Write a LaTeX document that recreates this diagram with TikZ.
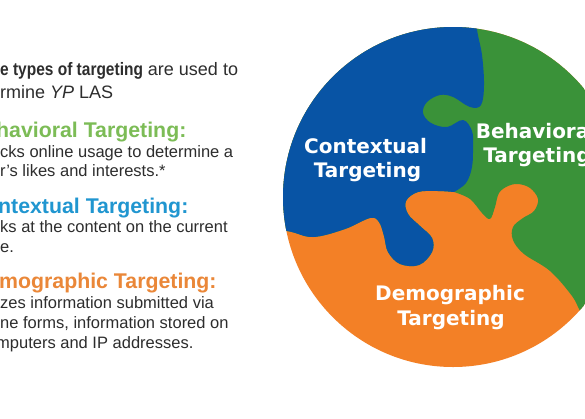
\documentclass[tikz,border=0pt]{standalone}
\usepackage{fontspec}
\setmainfont{Liberation Sans}
\newfontfamily\labelfont{DejaVu Sans}
\definecolor{pzblue}{RGB}{8,84,165}
\definecolor{pzgreen}{RGB}{58,146,57}
\definecolor{pzorange}{RGB}{243,128,38}
\definecolor{hdgreen}{RGB}{124,188,86}
\definecolor{hdblue}{RGB}{32,150,208}
\definecolor{hdorange}{RGB}{234,135,56}
\definecolor{bodygray}{RGB}{45,45,45}
\tikzset{
  txt/.style={anchor=base west, inner sep=0pt, text=bodygray},
  intro/.style={txt, font=\fontsize{18}{22}\selectfont},
  body/.style={txt, font=\fontsize{16.5}{20}\selectfont},
  head/.style={txt, font=\fontsize{21.3}{24}\selectfont\bfseries},
  lbl/.style={anchor=base, inner sep=0pt, text=white, font=\labelfont\bfseries\fontsize{20}{24}\selectfont}
}
\begin{document}
\begin{tikzpicture}[x=1pt,y=-1pt]
\useasboundingbox (0,0) rectangle (585,418);
\clip (0,0) rectangle (585,418);
\fill[white] (0,0) rectangle (585,418);
% puzzle disc
\begin{scope}
\clip (453,197) circle[radius=170pt];
\fill[pzorange] (453,197) circle[radius=172pt];
\fill[pzgreen] (250,0) -- (250,228)
  -- plot[smooth,tension=0.6] coordinates {(250,228) (287,231) (313,237) (345,229) (370,218) (379,222) (384,236) (388,252) (400,264) (419,265) (432,252) (432,238) (420,226) (408,214) (406,201) (418,192) (438,191) (454,192)}
  -- plot[smooth,tension=0.6] coordinates {(454,192) (470,199) (482,213) (490,219) (495,207) (499,193) (508,186) (518,184) (530,188) (538,199) (534,211) (523,218) (513,227) (513,240) (524,254) (550,271) (572,296) (582,314) (600,335)}
  -- (700,400) -- (700,0) -- cycle;
\fill[pzblue] (250,0) -- (250,228)
  -- plot[smooth,tension=0.6] coordinates {(250,228) (287,231) (313,237) (345,229) (370,218) (379,222) (384,236) (388,252) (400,264) (419,265) (432,252) (432,238) (420,226) (408,214) (406,201) (418,192) (438,191) (454,192)}
  -- plot[smooth,tension=0.6] coordinates {(454,192) (466,183) (472,167) (473,147) (472,131) (463,120) (447,127) (431,123) (423,113) (427,102) (440,95) (453,97) (470,107) (481,105) (484,85) (482,55) (477,29) (476,0)}
  -- cycle;
\end{scope}
% labels on the disc
\node[lbl] (ctx1) at (365.5,153) {Contextual};
\node[lbl] (ctx2) at (367.5,177) {Targeting};
\node[lbl] (beh1) at (536,138) {Behavioral};
\node[lbl] (beh2) at (537,162) {Targeting};
\node[lbl] (dem1) at (450,300) {Demographic};
\node[lbl] (dem2) at (451,325) {Targeting};
% left text
\node[intro] (l1) at (0,75) {\scalebox{0.86}[1]{\textbf{e types of targeting}} are used to};
\node[intro] (l2) at (0,98) {rmine \textit{YP} LAS};
\node[head, text=hdgreen] (h1) at (-4,137) {havioral Targeting:};
\node[body] (b1) at (0,157) {cks online usage to determine a};
\node[body] (b2) at (0,176) {r's likes and interests.*};
\node[head, text=hdblue] (h2) at (-2,213) {ntextual Targeting:};
\node[body] (b3) at (0,232) {ks at the content on the current};
\node[body] (b4) at (0,252) {e.};
\node[head, text=hdorange] (h3) at (-1,288) {mographic Targeting:};
\node[body] (b5) at (0,308) {zes information submitted via};
\node[body] (b6) at (0,328) {ne forms, information stored on};
\node[body] (b7) at (-4,348) {mputers and IP addresses.};
\end{tikzpicture}
\end{document}
